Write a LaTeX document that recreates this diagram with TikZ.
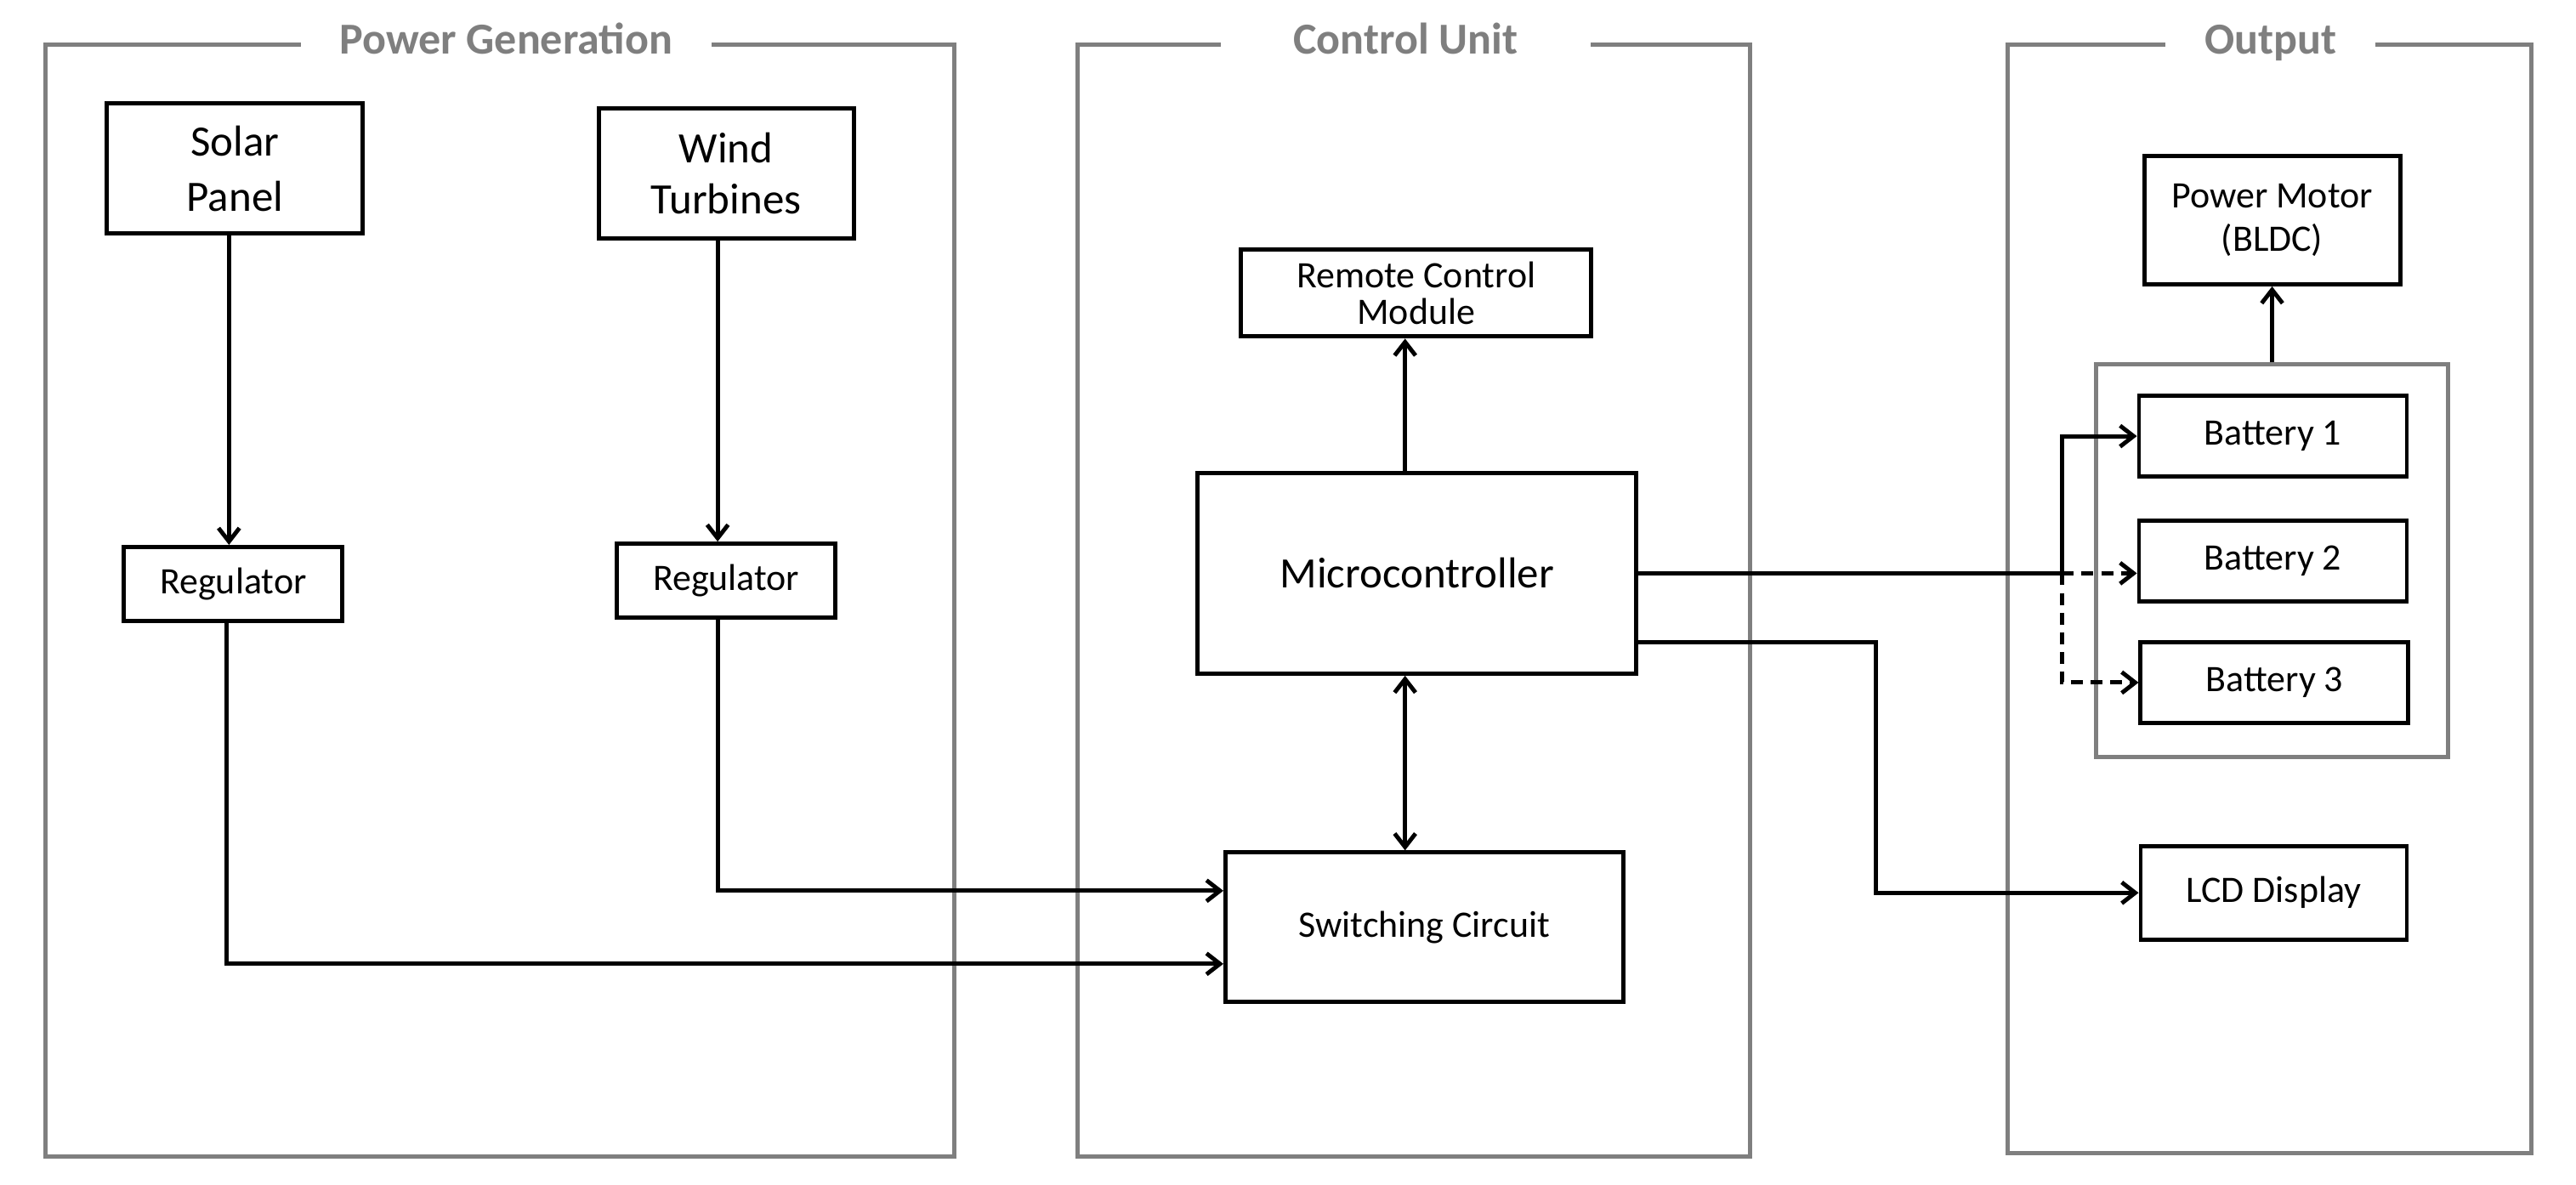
\documentclass[tikz,border=0pt]{standalone}
\usepackage{fontspec}
\setmainfont{Carlito}
\usepackage{tikz}
\usetikzlibrary{arrows.meta, positioning, calc}
\definecolor{framegray}{HTML}{7F7F7F}
\tikzset{
  blk/.style      = {rectangle, draw, line width=1.4pt, align=center, inner sep=2pt},
  smallbox/.style = {blk, font=\fontsize{12.5}{14}\selectfont},
  bigbox/.style   = {blk, font=\fontsize{14.5}{17}\selectfont},
  frame/.style    = {draw=framegray, line width=1.4pt},
  ftitle/.style   = {fill=white, text=framegray, anchor=base, inner ysep=1pt,
                     font=\fontsize{14.8}{17}\selectfont\bfseries},
  link/.style     = {line width=1.4pt},
  arr/.style      = {-{Straight Barb[length=4.5pt,width=7pt]}, line width=1.4pt},
  darr/.style     = {{Straight Barb[length=4.5pt,width=7pt]}-{Straight Barb[length=4.5pt,width=7pt]},
                     line width=1.4pt},
  dotline/.style  = {dash pattern=on 4pt off 2.6pt},
}

\begin{document}
\begin{tikzpicture}[x=0.19324cm, y=-0.19324cm]
  \useasboundingbox (0,0) rectangle (156.8,72.1);

  % Frames
  \draw[frame] (2.75,2.7) rectangle (58.1,70.4);
  \draw[frame] (65.6,2.7) rectangle (106.5,70.4);
  \draw[frame] (122.2,2.7) rectangle (154.1,70.2);
  \node[ftitle, minimum width=4.83cm] (tgen) at (30.8,3.3) {Power Generation};
  \node[ftitle, minimum width=4.35cm] (tctl) at (85.55,3.3) {Control Unit};
  \node[ftitle, minimum width=2.47cm] (tout) at (138.2,3.3) {Output};

  % Power generation
  \node[bigbox, minimum width=3.01cm, minimum height=1.53cm,
        font=\fontsize{14.5}{18.5}\selectfont] (solar) at (14.3,10.25) {Solar\\Panel};
  \node[bigbox, minimum width=3.00cm, minimum height=1.53cm] (wind) at (44.2,10.55) {Wind\\Turbines};
  \node[smallbox, minimum width=2.57cm, minimum height=0.87cm] (reg1) at (14.2,35.55) {Regulator};
  \node[smallbox, minimum width=2.57cm, minimum height=0.87cm] (reg2) at (44.2,35.35) {Regulator};

  % Control unit
  \node[smallbox, minimum width=4.12cm, minimum height=1.02cm,
        font=\fontsize{12.5}{12}\selectfont] (remote) at (86.2,17.85) {Remote Control\\Module};
  \node[bigbox, minimum width=5.16cm, minimum height=2.36cm] (micro) at (86.25,34.9) {Microcontroller};
  \node[smallbox, minimum width=4.68cm, minimum height=1.76cm] (switch) at (86.7,56.45) {Switching Circuit};

  % Output
  \node[smallbox, minimum width=3.01cm, minimum height=1.51cm,
        font=\fontsize{12.5}{14.5}\selectfont] (motor) at (138.3,13.4) {Power Motor\\(BLDC)};
  \node[frame, rectangle, minimum width=4.14cm, minimum height=4.62cm] (bank) at (138.3,34.15) {};
  \node[smallbox, minimum width=3.15cm, minimum height=0.95cm] (bat1) at (138.35,26.55) {Battery 1};
  \node[smallbox, minimum width=3.15cm, minimum height=0.95cm] (bat2) at (138.35,34.15) {Battery 2};
  \node[smallbox, minimum width=3.15cm, minimum height=0.95cm] (bat3) at (138.45,41.55) {Battery 3};
  \node[smallbox, minimum width=3.13cm, minimum height=1.10cm] (lcd) at (138.4,54.35) {LCD Display};

  % Connections
  \coordinate (split) at (125.5,34.9);
  \coordinate (bend) at (114.2,39.1);
  \draw[arr] ([xshift=-0.07cm]solar.south) -- ([xshift=-0.07cm]solar.south |- reg1.north);
  \draw[arr] ([xshift=-0.1cm]wind.south) -- ([xshift=-0.1cm]wind.south |- reg2.north);
  \draw[arr] ([xshift=-0.08cm]reg1.south) |- ([yshift=-0.43cm]switch.west);
  \draw[arr] ([xshift=-0.1cm]reg2.south) |- ([yshift=0.43cm]switch.west);
  \draw[arr] ([xshift=-0.14cm]micro.north) -- ([xshift=-0.14cm]micro.north |- remote.south);
  \draw[darr] ([xshift=-0.14cm]micro.south) -- ([xshift=-0.14cm]micro.south |- switch.north);
  \draw[link] (micro.east) -- (split);
  \draw[arr] (split) |- (bat1.west);
  \draw[arr, dotline] (split) -- (split -| bat2.west);
  \draw[arr, dotline] (split) |- (bat3.west);
  \draw[arr] (micro.east |- bend) -- (bend) |- (lcd.west);
  \draw[arr] (bank.north) -- (motor.south);
\end{tikzpicture}
\end{document}
